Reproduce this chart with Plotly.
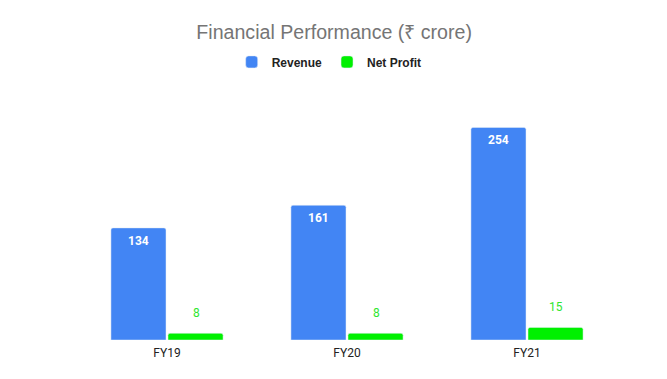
import plotly.graph_objects as go

categories = ["FY19", "FY20", "FY21"]
revenue = [134, 161, 254]
net_profit = [8, 8, 15]

BLUE = "#4285F4"
GREEN = "#00F000"
LABEL_GREEN = "#2ee62e"

fig = go.Figure()
fig.add_trace(go.Bar(
    x=categories, y=revenue, name="Revenue",
    marker=dict(color=BLUE, cornerradius=2),
    cliponaxis=False,
))
fig.add_trace(go.Bar(
    x=categories, y=net_profit, name="Net Profit",
    marker=dict(color=GREEN, cornerradius=2),
    cliponaxis=False,
))
for c, v in zip(categories, revenue):
    fig.add_annotation(
        x=c, y=v, text=str(v), showarrow=False,
        xref="x", yref="y", xshift=-29, yshift=-13,
        font=dict(family="Roboto", size=12, color="white", weight="bold"),
    )
for c, v in zip(categories, net_profit):
    fig.add_annotation(
        x=c, y=v, text=str(v), showarrow=False,
        xref="x", yref="y", xshift=29, yshift=20,
        font=dict(family="Roboto", size=12, color=LABEL_GREEN),
    )

fig.update_layout(
    width=667, height=379,
    margin=dict(l=69, r=58, t=81, b=47),
    paper_bgcolor="white", plot_bgcolor="white",
    barmode="group", bargap=0.366, bargroupgap=0.035,
    title=dict(text="Financial Performance (₹ crore)", x=0.489, xanchor="center",
               y=0.937, yanchor="middle",
               font=dict(family="Liberation Sans, Arial, sans-serif", size=19.6, color="#757575")),
    legend=dict(orientation="h", x=0.467, xanchor="center", y=1.108, yanchor="middle",
                font=dict(family="Liberation Sans, Arial, sans-serif", size=12, color="#222222", weight="bold"),
                itemwidth=30, traceorder="normal"),
    showlegend=True,
    xaxis=dict(showgrid=False, showline=False, ticks="", ticklabelstandoff=4,
               tickfont=dict(family="Roboto", size=12, color="#222222")),
    yaxis=dict(range=[0, 300], visible=False, showgrid=False),
)

fig.write_html("out.html")
